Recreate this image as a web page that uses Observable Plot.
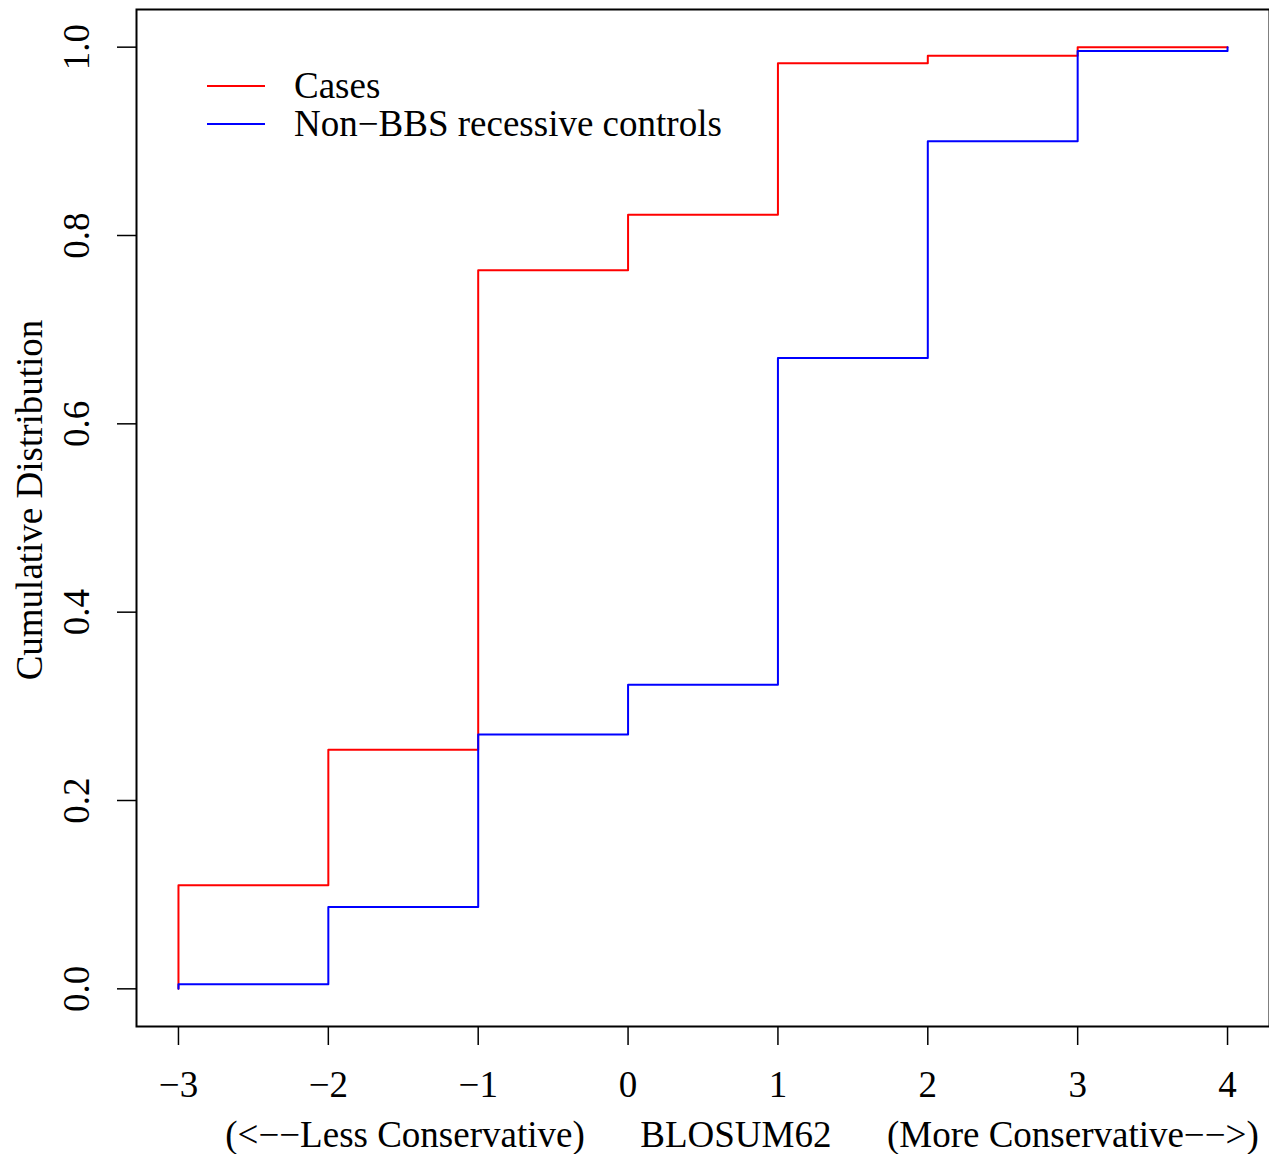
<!DOCTYPE html>
<html>
<head>
<meta charset="utf-8">
<script src="https://cdn.jsdelivr.net/npm/d3@7"></script>
<script src="https://cdn.jsdelivr.net/npm/@observablehq/plot@0.6"></script>
<style>
  html, body { margin: 0; padding: 0; background: white; }
  svg text { white-space: pre; }
</style>
</head>
<body>
<div id="chart"></div>
<script>
// BLOSUM62 score steps (first value repeated to draw the initial rise from 0)
const scores = [-3, -3, -2, -1, 0, 1, 2, 3, 4];
const casesCDF = [0, 0.110, 0.254, 0.763, 0.822, 0.983, 0.991, 1.000, 1.000];
const controlsCDF = [0, 0.005, 0.087, 0.270, 0.323, 0.670, 0.900, 0.996, 1.000];
const seriesNames = ["Cases", "Non\u2212BBS recessive controls"];
const seriesColors = ["#ff0000", "#0000ff"];
const xTicks = [-3, -2, -1, 0, 1, 2, 3, 4];
const yTicks = [0, 0.2, 0.4, 0.6, 0.8, 1.0];
const xTitle = "(<\u2212\u2212Less Conservative)      BLOSUM62      (More Conservative\u2212\u2212>)";
const yTitle = "Cumulative Distribution";

const casesData = scores.map((x, i) => ({x, y: casesCDF[i]}));
const controlsData = scores.map((x, i) => ({x, y: controlsCDF[i]}));

const fmtX = d => d < 0 ? "\u2212" + (-d) : String(d);
const FONT = "Liberation Serif, Times New Roman, serif";

const plot = Plot.plot({
  width: 1269,
  height: 1154,
  marginLeft: 136,
  marginRight: 0,
  marginTop: 9,
  marginBottom: 128,
  x: {domain: [-3.28, 4.28]},
  y: {domain: [-0.04, 1.04]},
  style: {fontFamily: FONT, fontSize: "37px", background: "white", color: "black", overflow: "visible"},
  marks: [
    Plot.line(casesData, {x: "x", y: "y", curve: "step-after", stroke: seriesColors[0], strokeWidth: 2}),
    Plot.line(controlsData, {x: "x", y: "y", curve: "step-after", stroke: seriesColors[1], strokeWidth: 2}),
    Plot.frame({stroke: "black", strokeWidth: 2}),
    Plot.axisX({ticks: xTicks, tickSize: 19, tickPadding: 25, tickFormat: fmtX, label: null, fontSize: 37, strokeWidth: 1.5}),
    Plot.axisY({ticks: yTicks, tickSize: 19, tickFormat: () => "", label: null, strokeWidth: 1.5}),
    Plot.text(yTicks, {x: -3.28, y: d => d, dx: -59, rotate: -90, text: d => d.toFixed(1), textAnchor: "middle", lineAnchor: "middle", fontSize: 37})
  ]
});

const svg = d3.select(plot);
// axis titles
svg.append("text")
  .attr("x", 742).attr("y", 1147)
  .attr("text-anchor", "middle")
  .attr("font-family", FONT).attr("font-size", 37).attr("fill", "black")
  .text(xTitle);
svg.append("text")
  .attr("transform", "translate(42,500) rotate(-90)")
  .attr("text-anchor", "middle")
  .attr("font-family", FONT).attr("font-size", 37).attr("fill", "black")
  .text(yTitle);
// legend
const legend = svg.append("g");
seriesNames.forEach((name, i) => {
  const ly = 86 + i * 38;
  legend.append("line")
    .attr("x1", 207).attr("x2", 265).attr("y1", ly).attr("y2", ly)
    .attr("stroke", seriesColors[i]).attr("stroke-width", 2);
  legend.append("text")
    .attr("x", 294).attr("y", ly + 12)
    .attr("text-anchor", "start")
    .attr("font-family", FONT).attr("font-size", 37).attr("fill", "black")
    .text(name);
});

document.getElementById("chart").appendChild(plot);
</script>
</body>
</html>
